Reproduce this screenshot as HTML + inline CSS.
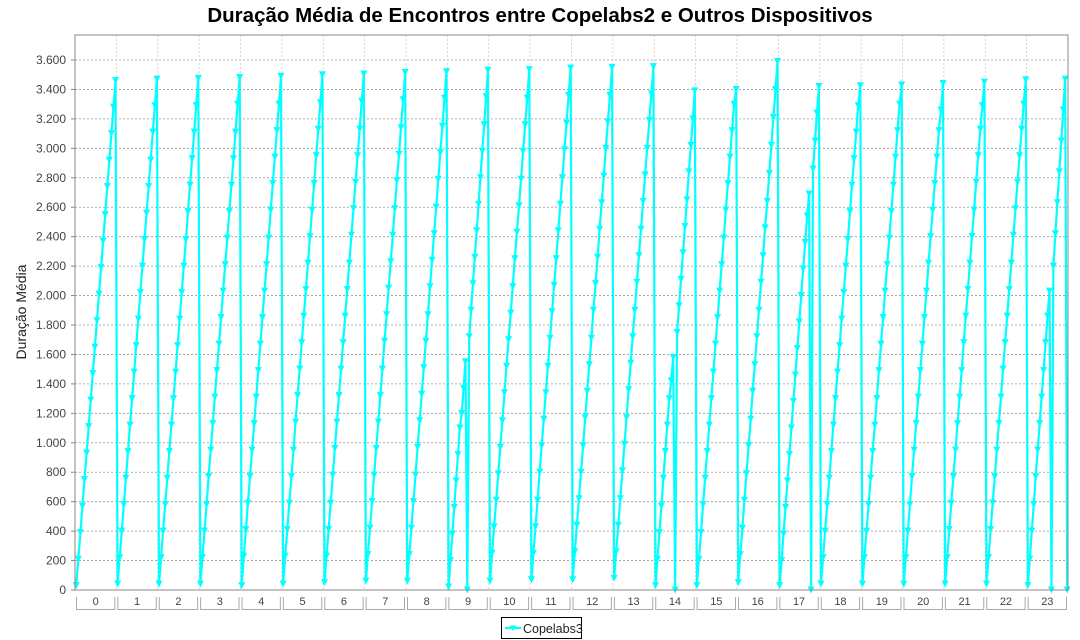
<!DOCTYPE html>
<html><head><meta charset="utf-8"><style>
html,body{margin:0;padding:0;background:#fff;}
svg{display:block;font-family:"Liberation Sans",sans-serif;}
</style></head><body>
<svg id="chart" width="1080" height="640">
<text x="540" y="22" text-anchor="middle" font-size="20.5" font-weight="bold" fill="#000">Duração Média de Encontros entre Copelabs2 e Outros Dispositivos</text>
<text transform="translate(26,312) rotate(-90)" text-anchor="middle" font-size="14" fill="#222">Duração Média</text>
<g id="grid"></g><g id="yticks"></g><g id="xcats"></g><g id="series"></g>
<rect x="75" y="35" width="993" height="555" fill="none" stroke="#888" stroke-width="1"/>
<g>
<rect x="501.5" y="617.5" width="80" height="21" fill="#fff" stroke="#000"/>
<line x1="505" y1="628" x2="521" y2="628" stroke="#00ffff" stroke-width="2"/>
<path d="M509.5,625.5 L516.5,625.5 L513,631 Z" fill="#00ffff"/>
<text x="523" y="633" font-size="12.5" fill="#222">Copelabs3</text>
</g>
</svg>
<script>
const categories = ["0","1","2","3","4","5","6","7","8","9","10","11","12","13","14","15","16","17","18","19","20","21","22","23"];
const yTicks = [0,200,400,600,800,1000,1200,1400,1600,1800,2000,2200,2400,2600,2800,3000,3200,3400,3600];
const hour0 = [30,210,390,570,750,930,1110,1290,1470,1650,1830,2010,2190,2370,2550,2740,2920,3100,3280,3460];
const hour1 = [40,220,400,580,760,940,1120,1300,1480,1660,1840,2020,2200,2380,2560,2740,2920,3110,3290,3470];
const hour2 = [40,220,400,580,760,940,1120,1300,1480,1660,1840,2020,2200,2380,2570,2750,2930,3110,3290,3475];
const hour3 = [40,220,400,580,770,950,1130,1310,1490,1670,1850,2030,2210,2390,2570,2750,2930,3110,3300,3480];
const hour4 = [30,230,410,590,770,950,1130,1310,1490,1670,1850,2030,2210,2390,2580,2760,2940,3120,3300,3490];
const hour5 = [40,230,410,590,770,950,1140,1320,1500,1680,1860,2040,2220,2400,2580,2760,2950,3130,3310,3500];
const hour6 = [50,230,410,590,780,960,1140,1320,1500,1680,1860,2040,2220,2410,2590,2770,2950,3130,3320,3505];
const hour7 = [60,240,420,600,780,960,1140,1320,1500,1690,1870,2050,2230,2410,2590,2780,2960,3140,3330,3515];
const hour8 = [60,240,420,600,780,970,1150,1330,1510,1690,1870,2060,2240,2420,2600,2790,2970,3150,3340,3520];
const hour9 = [20,200,380,560,740,920,1100,1200,1370,1550,0,1720,1900,2080,2260,2440,2620,2800,2980,3160,3350,3530];
const hour10 = [60,250,430,610,790,970,1150,1340,1520,1700,1880,2060,2250,2430,2610,2790,2980,3160,3340,3535];
const hour11 = [70,250,430,610,800,980,1160,1340,1520,1710,1890,2070,2250,2440,2620,2800,2990,3170,3360,3545];
const hour12 = [70,260,440,620,800,980,1170,1350,1530,1710,1900,2080,2260,2450,2630,2810,3000,3180,3360,3550];
const hour13 = [80,260,440,620,810,990,1170,1360,1540,1720,1900,2090,2270,2450,2640,2820,3000,3190,3370,3555];
const hour14 = [30,210,390,570,760,940,1120,1300,1420,1580,0,1750,1930,2110,2290,2470,2650,2840,3020,3200,3390];
const hour15 = [30,210,390,580,760,940,1120,1300,1480,1670,1850,2030,2210,2390,2580,2760,2940,3120,3300,3400];
const hour16 = [50,240,420,610,790,980,1160,1350,1530,1720,1900,2090,2270,2460,2640,2830,3020,3210,3400,3590];
const hour17 = [30,200,380,560,740,920,1100,1280,1460,1640,1820,2000,2180,2360,2540,2690,0,2860,3050,3240,3420];
const hour18 = [40,220,400,580,760,940,1120,1300,1480,1660,1840,2020,2200,2380,2570,2750,2930,3110,3290,3425];
const hour19 = [40,220,400,580,760,940,1120,1300,1490,1670,1850,2030,2210,2390,2570,2750,2940,3120,3300,3430];
const hour20 = [40,220,400,580,770,950,1130,1310,1490,1670,1850,2030,2220,2400,2580,2760,2940,3120,3260,3440];
const hour21 = [40,220,410,590,770,950,1130,1310,1490,1680,1860,2040,2220,2400,2580,2770,2950,3130,3290,3450];
const hour22 = [40,220,410,590,770,950,1130,1310,1500,1680,1860,2040,2220,2410,2590,2770,2950,3130,3300,3465];
const hour23 = [30,210,400,580,770,950,1130,1310,1490,1680,1860,2030,0,2200,2420,2630,2840,3050,3260,3470,0];
const hourlyValues = [hour0,hour1,hour2,hour3,hour4,hour5,hour6,hour7,hour8,hour9,hour10,hour11,hour12,hour13,hour14,hour15,hour16,hour17,hour18,hour19,hour20,hour21,hour22,hour23];

const NS="http://www.w3.org/2000/svg";
const L=75,R=1068,T=35,B=590,YMAX=3600,YTOP=60;
const band=(R-L)/categories.length;
function yScale(v){return B-(v/YMAX)*(B-YTOP);}
function xScale(cat,frac){return L+band*(cat+frac);}
function mk(tag,attrs,parent){const e=document.createElementNS(NS,tag);for(const k in attrs)e.setAttribute(k,attrs[k]);parent.appendChild(e);return e;}
function fmt(v){return v.toString().replace(/\B(?=(\d{3})+(?!\d))/g,".");}

const grid=document.getElementById('grid'),yt=document.getElementById('yticks'),xc=document.getElementById('xcats'),ser=document.getElementById('series');
mk('rect',{x:L,y:T,width:R-L,height:B-T,fill:'#fff'},grid);
yTicks.forEach(v=>{
  const y=yScale(v);
  if(v>0){const g=mk('line',{x1:L,x2:R,y1:y,y2:y,stroke:'#999','stroke-width':0.8,'stroke-dasharray':'2,2'},grid);
  
  }
  const tk=mk('line',{x1:L-4,x2:L,y1:y,y2:y,stroke:'#888'},yt);
  
  
  const t=mk('text',{x:L-9,y:y+4,'text-anchor':'end','font-size':12,fill:'#444'},yt);
  t.textContent=fmt(v);
  
  
});
categories.forEach((c,i)=>{
  const x0=L+band*i,x1=x0+band;
  if(i>0){const g=mk('line',{x1:x0,x2:x0,y1:T,y2:B,stroke:'#ccc','stroke-width':0.8,'stroke-dasharray':'2,2'},grid);
  
  }
  const bx=mk('path',{d:`M${x0+1.5},597 L${x0+1.5},609.5 L${x1-1.5},609.5 L${x1-1.5},597`,fill:'none',stroke:'#aaa'},xc);
  
  
  const t=mk('text',{x:(x0+x1)/2,y:605,'text-anchor':'middle','font-size':11,fill:'#444'},xc);
  t.textContent=c;
  
  
});
const pts=[];
hourlyValues.forEach((arr,h)=>{
  const n=arr.length;
  arr.forEach((v,i)=>{pts.push([xScale(h,0.03+0.95*i/(n-1)),yScale(v)]);});
});
const line=mk('polyline',{points:pts.map(p=>p[0].toFixed(1)+','+p[1].toFixed(1)).join(' '),fill:'none',stroke:'#00ffff','stroke-width':2.2,'stroke-linejoin':'round'},ser);


pts.forEach(p=>{
  const m=mk('path',{d:`M${p[0]-3.5},${p[1]-3.5} L${p[0]+3.5},${p[1]-3.5} L${p[0]},${p[1]+3.5} Z`,fill:'#00ffff'},ser);
  
  
});
</script>
</body></html>
